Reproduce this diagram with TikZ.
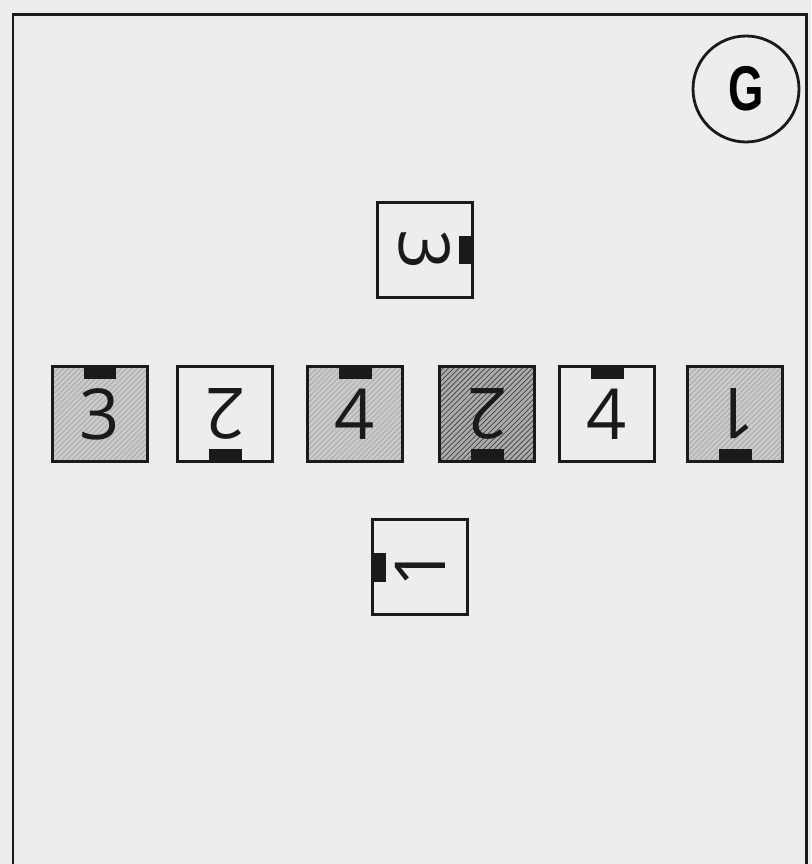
\documentclass[tikz,border=0pt]{standalone}
\usepackage{fontspec}
\setmainfont{Liberation Sans}
\newfontfamily\tilefont{Open Sans}
\usetikzlibrary{patterns}
\definecolor{scanpaper}{HTML}{EDEDED}
\definecolor{scanlight}{HTML}{CACACA}
\definecolor{scandark}{HTML}{ABABAB}
\definecolor{scanink}{HTML}{1A1A1A}
\tikzset{
  tile/.style={draw=scanink, line width=2pt, minimum size=1.9cm, inner sep=0pt,
    font=\tilefont\fontsize{40}{40}\selectfont, text=scanink},
  plaintile/.style={tile, fill=scanpaper},
  lighttile/.style={tile, preaction={fill=scanlight}, pattern=north east lines, pattern color=gray!70},
  darktile/.style={tile, preaction={fill=scandark}, pattern=north east lines, pattern color=gray!50!black},
  notch/.style={fill=scanink, inner sep=0pt, minimum width=0.66cm, minimum height=0.28cm},
  sidenotch/.style={fill=scanink, inner sep=0pt, minimum width=0.3cm, minimum height=0.58cm}
}

\begin{document}
\begin{tikzpicture}[x=0.02cm, y=-0.02cm]
      \fill[scanpaper] (0,0) rectangle (811,864);
      \useasboundingbox (0,0) rectangle (811,864);
      \coordinate (fbl) at (13,864);
      \coordinate (ftl) at (13,15);
      \coordinate (ftr) at (806,15);
      \coordinate (fbr) at (806,864);
      \draw[scanink, line width=1.7pt] (fbl) -- (ftl) -- (ftr) -- (fbr);
      \node[draw=scanink, circle, line width=1.6pt, minimum size=2.12cm, inner sep=0pt,
        font=\fontsize{36}{36}\selectfont\bfseries] (plate) at (746,89) {\scalebox{0.72}[1]{G}};
      \node[plaintile] (top) at (425,250) {\rotatebox{-90}{3}};
      \node[sidenotch, anchor=east] (topnotch) at (top.east) {};
      \foreach \n/\x/\d/\r/\s/\m in {1/100/3/0/lighttile/north, 2/225/2/180/plaintile/south,
          3/355/4/0/lighttile/north, 4/487/2/180/darktile/south,
          5/607/4/0/plaintile/north, 6/735/1/180/lighttile/south}{
        \node[\s] (row\n) at (\x,414) {\rotatebox{\r}{\d}};
        \node[notch, anchor=\m] (rownotch\n) at (row\n.\m) {};
      }
      \node[plaintile] (bottom) at (420,567) {\rotatebox{90}{1}};
      \node[sidenotch, anchor=west] (bottomnotch) at (bottom.west) {};
    \end{tikzpicture}
\end{document}
